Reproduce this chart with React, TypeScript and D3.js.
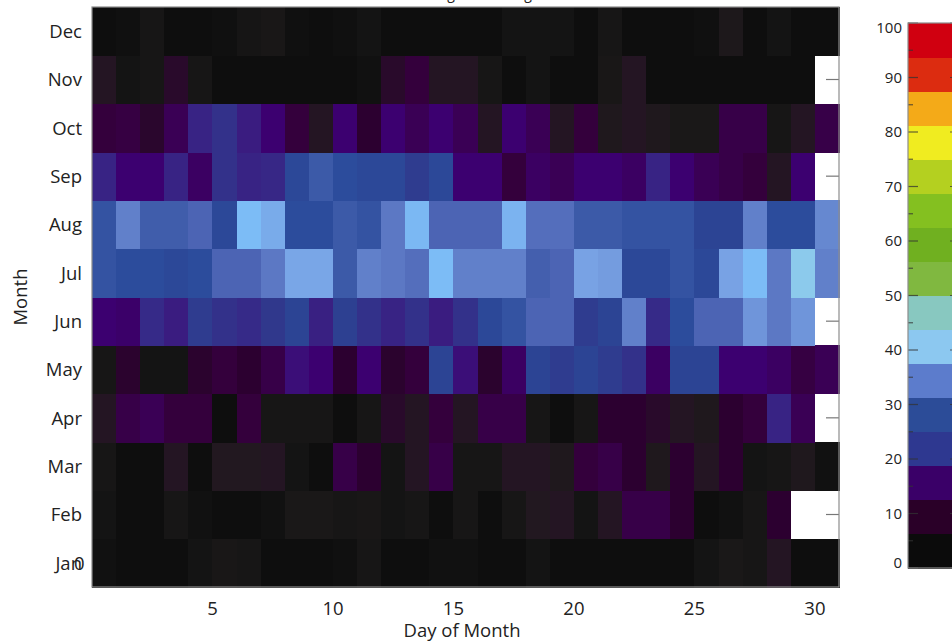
import React from 'react';
import * as d3 from 'd3';

// months bottom to top, days 1..31, null = day does not exist (drawn white)
const MONTHS = ['Jan', 'Feb', 'Mar', 'Apr', 'May', 'Jun', 'Jul', 'Aug', 'Sep', 'Oct', 'Nov', 'Dec'];
const DAY_TICKS = [5, 10, 15, 20, 25, 30];
const CB_TICKS = [0, 10, 20, 30, 40, 50, 60, 70, 80, 90, 100];

const jan = [2, 1, 1, 1, 3, 4.5, 4, 1, 1, 1, 1.5, 4, 1, 1, 2, 2, 1, 1, 3, 1, 1, 1, 1, 1, 1, 3, 5, 4, 7, 1, 1];
const feb = [3, 1, 1, 4, 2, 1, 1, 2, 5, 5, 4, 4.5, 3, 4, 1, 4, 1, 4, 6.5, 7, 3, 7, 13, 13, 10.5, 1, 2, 4, 10.5, null, null];
const mar = [4, 1, 1, 7, 1, 6.5, 6.5, 7, 3, 1, 13, 10.5, 3, 7, 13, 4, 4, 7, 7, 6, 12, 13, 10.5, 6, 10.5, 7, 10.5, 3, 4, 6, 2];
const apr = [7, 13, 14, 12, 12, 1, 12, 4, 4, 4, 1, 4, 9, 7, 12, 7, 13, 13, 4, 1, 4, 10.5, 10.5, 9, 7, 6, 10.5, 12, 19, 14, null];
const may = [4, 10, 3, 3, 10, 12, 10.5, 13, 17, 16, 10.5, 16, 10, 12, 25, 17, 10, 15, 25, 23, 25, 23, 21, 15, 25, 25, 16, 16, 15, 12.5, 14];
const jun = [16, 15.5, 20, 18, 23, 21, 20, 22, 25, 18.5, 24, 21, 19, 21, 18, 21, 26, 28, 31, 31, 23, 25, 34, 20, 27, 31, 31, 36, 33, 36, null];
const jul = [28, 27, 27, 26, 27, 31, 31, 33, 37.5, 37.5, 29, 34, 33, 32, 40, 34, 34, 34, 30, 31, 37, 36.5, 26, 26, 28, 26, 37, 40, 33, 42, 34];
const aug = [28, 34, 29.5, 29.5, 31, 26, 40, 38, 27, 27, 29, 28, 33, 39.5, 31, 31, 31, 39, 32, 32, 29, 29, 28, 28, 28, 25, 25, 34, 27, 27, 35];
const sep = [19, 16, 16, 19, 15, 21, 19, 19.5, 26, 29, 27, 26, 26, 23, 26, 16, 16, 12, 15, 14, 16, 16, 15, 19, 16, 14, 13, 12, 7, 16, null];
const oct = [12, 12.5, 9.5, 14, 19, 21, 18, 16, 12, 7, 16, 10.5, 16, 14, 16, 14, 7, 16, 14, 7, 12, 6, 7, 6, 5, 5, 13, 13, 4, 7, 13];
const nov = [7, 3, 4, 9, 4, 1, 1, 1, 1, 1, 1, 2, 9, 12, 7, 7, 4, 1, 3, 1, 1, 4.5, 7, 1, 1, 1, 1, 1, 1, 1, null];
const dec = [1, 1.5, 4, 1, 1, 1.5, 3.5, 4.5, 1.5, 1, 1.5, 3, 1, 1, 1, 1, 1, 3, 3, 3, 1, 4, 1, 1, 1, 1.5, 5.5, 1, 3, 1, 1];

const monthValues: (number | null)[][] = [jan, feb, mar, apr, may, jun, jul, aug, sep, oct, nov, dec];

// continuous colormap used for the cells
const CMAP_STOPS = [0, 3, 5, 6.5, 8, 10.5, 12, 13.5, 16, 18, 20, 22, 25, 27, 29, 31, 33, 35, 37, 40, 42, 47, 53, 59, 65, 72, 78, 84, 90, 97];
const CMAP_COLORS = ['#0b0b0b', '#141414', '#1a1818', '#221820', '#271028', '#2c0030', '#34003c', '#39004e', '#3c0070', '#3a1c80',
  '#362a88', '#30388c', '#2c4494', '#2c4c9c', '#3c5aa8', '#4c64b4', '#5c78c4', '#6688d0', '#78a2e4', '#7cbcf6',
  '#8ccaec', '#88c8c0', '#80b840', '#70b020', '#84c020', '#b4d020', '#f0ec20', '#f4aa18', '#dc2c10', '#d00010'];

// stepped colours of the colour bar (16 bins over 0..100)
const CB_BINS = ['#0b0b0b', '#2a0028', '#3a0068', '#2e3890', '#2c4c98', '#5c7ccc', '#8cc8f0', '#88c8c0',
  '#80b840', '#70b020', '#84c020', '#b4d020', '#f0ec20', '#f4aa18', '#dc2c10', '#d00010'];

const W = 952;
const H = 644;
const FONT = "'Open Sans', 'Noto Sans', sans-serif";

export default function App() {
  const plot = { left: 92, right: 839, top: 7, bottom: 587 };
  const x = d3.scaleLinear().domain([0, 31]).range([plot.left, plot.right]);
  const y = d3.scaleBand<string>().domain([...MONTHS].reverse()).range([plot.top, plot.bottom]);
  const color = d3.scaleLinear<string>().domain(CMAP_STOPS).range(CMAP_COLORS).clamp(true);
  const bw = y.bandwidth();

  const cb = d3.scaleLinear().domain([0, 100]).range([568, 23]);
  const cbLeft = 908;
  const cbRight = 960;
  const binSize = 100 / CB_BINS.length;
  const cbMinor = d3.range(0, 101, 5);

  return (
    <svg width={W} height={H} style={{ position: 'absolute', left: 0, top: 0 }} fontFamily={FONT}>
      <rect width={W} height={H} fill="#fff" />

      {/* title, mostly above the visible area */}
      <text x={410} y={-1.5} fontSize={14} fill="#222">Average Percentage</text>

      {/* right-hand ticks sit behind the cells and only show through missing days */}
      {MONTHS.map(m => (
        <line key={'rt' + m} x1={plot.right} x2={plot.right - 13}
          y1={(y(m) || 0) + bw / 2} y2={(y(m) || 0) + bw / 2} stroke="#777" strokeWidth={1.2} />
      ))}

      <g shapeRendering="crispEdges">
        {monthValues.map((row, i) =>
          row.map((v, d) => v == null ? null : (
            <rect key={i + '-' + d}
              x={x(d)} width={x(d + 1) - x(d) + 0.5}
              y={y(MONTHS[i]) || 0} height={bw + 0.5}
              fill={color(v)} />
          ))
        )}
      </g>

      <rect x={plot.left} y={plot.top} width={plot.right - plot.left} height={plot.bottom - plot.top}
        fill="none" stroke="#8c8c8c" strokeWidth={1.2} />

      {/* y axis */}
      {MONTHS.map(m => (
        <text key={'yl' + m} x={82} y={(y(m) || 0) + bw / 2} dy="0.37em" textAnchor="end"
          fontSize={18.5} fill="#222">{m}</text>
      ))}
      <text x={84.5} y={(y('Jan') || 0) + bw / 2} dy="0.37em" textAnchor="end" fontSize={18.5} fill="#222">0</text>
      <text transform={`translate(27,${(plot.top + plot.bottom) / 2}) rotate(-90)`} textAnchor="middle"
        fontSize={18.5} fill="#222">Month</text>

      {/* x axis */}
      {DAY_TICKS.map(t => (
        <text key={'xl' + t} x={x(t)} y={615} textAnchor="middle" fontSize={18.5} fill="#222">{t}</text>
      ))}
      <text x={462} y={637} textAnchor="middle" fontSize={18.5} fill="#222">Day of Month</text>

      {/* colour bar */}
      <g shapeRendering="crispEdges">
        {CB_BINS.map((c, i) => (
          <rect key={'cb' + i} x={cbLeft} width={cbRight - cbLeft}
            y={cb((i + 1) * binSize)} height={cb(i * binSize) - cb((i + 1) * binSize) + 0.5} fill={c} />
        ))}
      </g>
      {cbMinor.map(v => {
        const len = v % 10 === 0 ? 10 : 5;
        return (
          <g key={'cbt' + v} stroke="#333" strokeOpacity={0.75} strokeWidth={1.2}>
            <line x1={cbLeft} x2={cbLeft + len} y1={cb(v)} y2={cb(v)} />
            <line x1={cbRight} x2={cbRight - len} y1={cb(v)} y2={cb(v)} />
          </g>
        );
      })}
      <rect x={cbLeft} y={cb(100)} width={cbRight - cbLeft} height={cb(0) - cb(100)} fill="none"
        stroke="#8c8c8c" strokeWidth={1.2} />
      {CB_TICKS.map(v => (
        <text key={'cbl' + v} x={902} y={Math.min(Math.max(cb(v), 28), 563)} dy="0.36em" textAnchor="end"
          fontSize={15} fill="#222">{v}</text>
      ))}
    </svg>
  );
}
